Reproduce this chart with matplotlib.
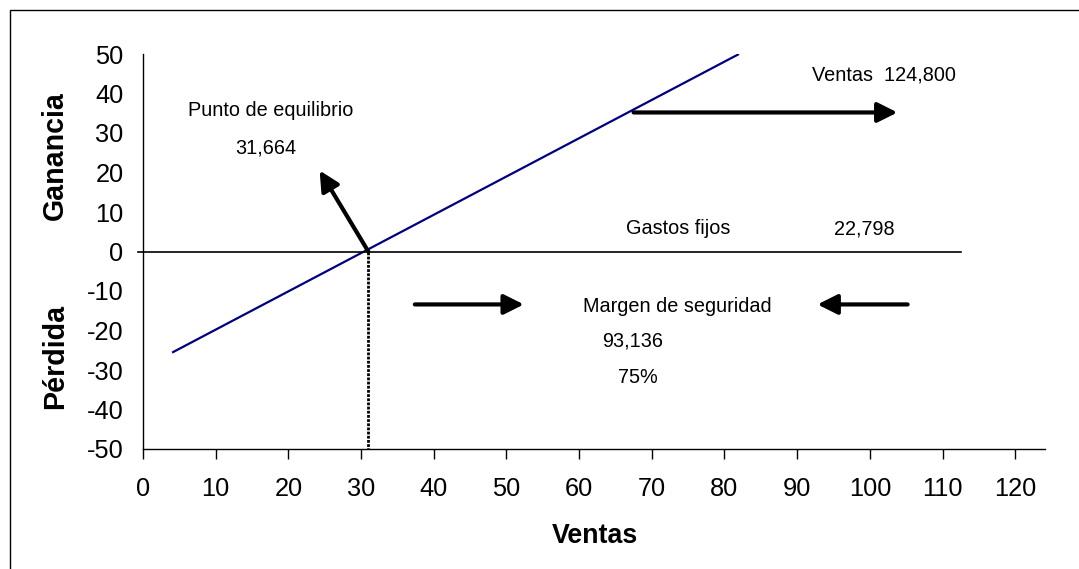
import numpy as np
import matplotlib.pyplot as plt
import matplotlib.patches as patches

plt.rcParams['font.family'] = ['Liberation Sans', 'DejaVu Sans']
plt.rcParams['axes.unicode_minus'] = False

# ---- data ----
ventas_line_x = [4, 82]          # linea de ventas (ganancia)
ventas_line_y = [-25.6, 50]
gastos_x = [0, 112.5]            # linea de gastos fijos
gastos_y = [0, 0]
equilibrio_x = 31                # punto de equilibrio
equilibrio_y = [0, -50]

xticks = list(range(0, 121, 10))
yticks = list(range(-50, 51, 10))

# arrows: (tail, head)
arrows = [
    ((31, 0), (24.3, 20.5)),
    ((67.5, 35.2), (103.8, 35.2)),
    ((37.4, -13.4), (52.4, -13.4)),
    ((105.2, -13.4), (92.8, -13.4)),
]

labels = [
    (17.5, 35.6, 'Punto de equilibrio'),
    (16.9, 26.3, '31,664'),
    (102.0, 44.6, 'Ventas  124,800'),
    (73.6, 5.8, 'Gastos fijos'),
    (99.3, 5.8, '22,798'),
    (73.5, -14.0, 'Margen de seguridad'),
    (67.3, -22.6, '93,136'),
    (68.1, -32.0, '75%'),
]

fig = plt.figure(figsize=(10.79, 5.69), dpi=100)
ax = fig.add_axes([143/1079, 1 - 449/569, (1045 - 143)/1079, (449 - 54)/569])

ax.plot(ventas_line_x, ventas_line_y, color='#000080', lw=1.6, solid_capstyle='butt')
ax.plot([-0.7] + gastos_x[1:], gastos_y, color='black', lw=1.2, clip_on=False)
ax.plot([equilibrio_x, equilibrio_x], equilibrio_y, color='black', lw=2, ls=(0, (1, 0.5)))

for tail, head in arrows:
    ax.annotate('', xy=head, xytext=tail,
                arrowprops=dict(arrowstyle='-|>,head_length=1.2,head_width=0.6',
                                mutation_scale=10, lw=3, color='black',
                                shrinkA=0, shrinkB=0, capstyle='round'))

for x, y, s in labels:
    ax.text(x, y, s, fontsize=14.3, ha='center', va='center')

ax.set_xlim(0, 124.1)
ax.set_ylim(-50, 50)
ax.set_xticks(xticks)
ax.set_yticks(yticks)
ax.spines['top'].set_visible(False)
ax.spines['right'].set_visible(False)
ax.spines['left'].set_linewidth(1)
ax.spines['bottom'].set_linewidth(1)
ax.tick_params(axis='x', direction='out', length=7, width=1, labelsize=18.3, pad=13)
ax.tick_params(axis='y', length=0, labelsize=18.3, pad=14)

ax.set_xlabel('Ventas', fontsize=19.3, fontweight='bold', labelpad=0)
ax.xaxis.set_label_coords((595 - 143)/(1045 - 143), -(523 - 449)/(449 - 54))

fig.text(55/1079, 1 - 156/569, 'Ganancia', fontsize=20.6, fontweight='bold',
         rotation=90, ha='center', va='center')
fig.text(55/1079, 1 - 356/569, 'Pérdida', fontsize=20.6, fontweight='bold',
         rotation=90, ha='center', va='center')

border = patches.Rectangle((10/1079, -0.05), 1.1, 1 - 10/569 + 0.05,
                           transform=fig.transFigure, fill=False,
                           edgecolor='black', lw=1, clip_on=False)
fig.patches.append(border)

fig.savefig('out.png', dpi=100)
